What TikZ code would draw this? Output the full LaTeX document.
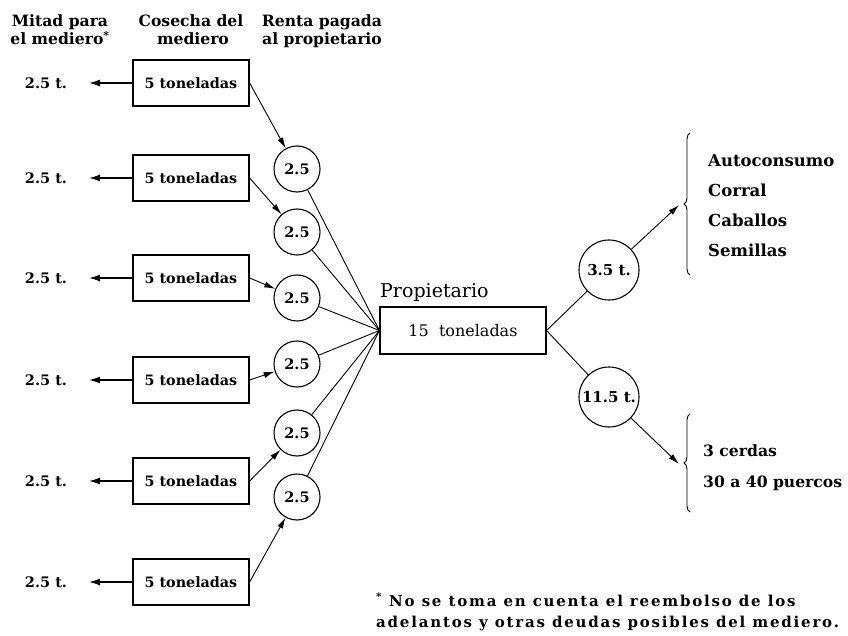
\documentclass[tikz,border=0pt]{standalone}
\usepackage{fontspec}
\setmainfont{DejaVu Serif}
\newfontfamily\footfont[LetterSpace=12]{DejaVu Serif}
\usetikzlibrary{arrows.meta,decorations.pathreplacing}
\tikzset{
  hdr/.style={font=\bfseries\fontsize{15.6}{17}\selectfont, anchor=base, inner sep=0pt},
  crop/.style={draw, line width=1.3pt, minimum width=116pt, minimum height=46pt, inner sep=0pt,
               font=\bfseries\fontsize{14.3}{16}\selectfont},
  rent/.style={draw, circle, line width=1.1pt, minimum size=46pt, inner sep=0pt,
               font=\bfseries\fontsize{14.5}{16}\selectfont},
  big/.style={draw, circle, line width=1.1pt, minimum size=60pt, inner sep=0pt,
               font=\bfseries\fontsize{15}{16}\selectfont},
  half/.style={font=\bfseries\fontsize{14.5}{16}\selectfont, inner sep=0pt},
  lst/.style={font=\bfseries\fontsize{16.5}{18}\selectfont, anchor=base west, inner sep=0pt},
  lstb/.style={font=\bfseries\fontsize{15.6}{18}\selectfont, anchor=base west, inner sep=0pt},
  foot/.style={font=\footfont\bfseries\fontsize{15}{16}\selectfont, anchor=base west, inner sep=0pt},
  arr/.style={line width=0.9pt, -{Latex[length=11pt,width=6pt]}},
  larr/.style={line width=1.4pt, -{Latex[length=11pt,width=7pt]}},
  ln/.style={line width=0.9pt},
  brc/.style={line width=0.9pt, decorate, decoration={brace, amplitude=6pt}}
}
\begin{document}
\begin{tikzpicture}[x=1pt,y=-1pt]
\useasboundingbox (0,0) rectangle (848,636);
% headers
\node[hdr] (h1a) at (60,27) {Mitad para};
\node[hdr] (h1b) at (60,45) {el mediero\textsuperscript{*}};
\node[hdr] (h2a) at (191,27) {Cosecha del};
\node[hdr] (h2b) at (193,45) {mediero};
\node[hdr] (h3a) at (322,27) {Renta pagada};
\node[hdr] (h3b) at (322,45) {al propietario};
% rows
\foreach \i/\y in {1/83,2/178,3/278,4/380,5/481,6/582}{
  \node[crop] (b\i) at (191,\y) {5 toneladas};
  \node[half] (m\i) at (46,\y) {2.5 t.};
  \coordinate (l\i) at (89,\y);
  \draw[larr] (b\i.west) -- (l\i);
}
\foreach \i/\y in {1/169,2/232,3/298,4/364,5/433,6/497}{
  \node[rent] (c\i) at (297,\y) {2.5};
}
\foreach \i in {1,...,6}{
  \draw[arr] (b\i.east) -- (c\i);
}
% owner
\node[draw, line width=1.1pt, minimum width=166pt, minimum height=47pt, inner sep=0pt,
      font=\fontsize{16}{18}\selectfont] (p) at (463,330.5) {15\ \ toneladas};
\node[anchor=base west, inner sep=0pt, font=\fontsize{19}{21}\selectfont] (pl) at (380,297) {Propietario};
\foreach \i in {1,...,6}{
  \draw[ln] (c\i) -- (p.west);
}
\node[big] (r1) at (609,270) {3.5 t.};
\node[big] (r2) at (609,397) {11.5 t.};
\draw[ln] (p.east) -- (r1);
\draw[ln] (p.east) -- (r2);
\coordinate (e1) at (679,205);
\coordinate (e2) at (679,464);
\draw[arr] (r1) -- (e1);
\draw[arr] (r2) -- (e2);
% braces
\coordinate (ba) at (690,275);
\coordinate (bb) at (690,133);
\coordinate (bc) at (690,512);
\coordinate (bd) at (690,414);
\draw[brc] (ba) -- (bb);
\draw[brc] (bc) -- (bd);
\node[lst] (t1) at (708,167) {Autoconsumo};
\node[lst] (t2) at (708,197) {Corral};
\node[lst] (t3) at (708,227) {Caballos};
\node[lst] (t4) at (708,257) {Semillas};
\node[lstb] (t5) at (703,456) {3 cerdas};
\node[lstb] (t6) at (703,487) {30 a 40 puercos};
% footnote
\node[foot] (f1) at (376,606) {\textsuperscript{*} No se toma en cuenta el reembolso de los};
\node[foot] (f2) at (376,627) {adelantos y otras deudas posibles del mediero.};
\end{tikzpicture}
\end{document}
